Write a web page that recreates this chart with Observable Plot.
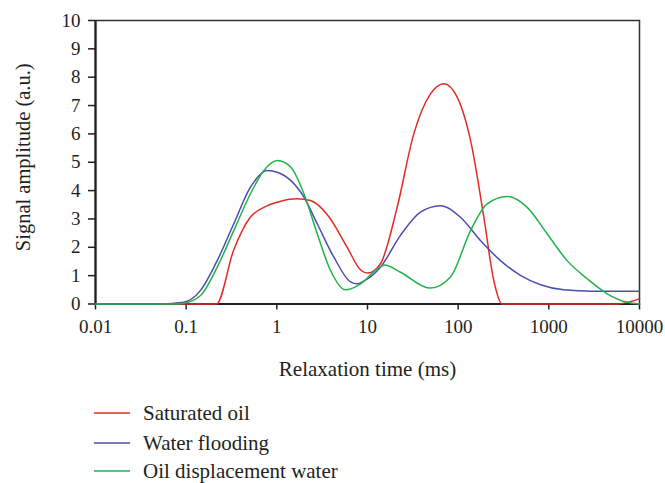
<!DOCTYPE html>
<html>
<head>
<meta charset="utf-8">
<script src="https://cdn.jsdelivr.net/npm/d3@7"></script>
<script src="https://cdn.jsdelivr.net/npm/@observablehq/plot@0.6"></script>
<style>
  body { margin: 0; background: #fff; font-family: "Liberation Serif", serif; }
  #wrap { position: relative; width: 665px; height: 483px; overflow: hidden; }
  .lg { position: absolute; left: 94px; height: 26px; display: flex; align-items: center; font-size: 21px; color: #231f20; white-space: nowrap; }
  .lg svg { margin-right: 13px; }
</style>
</head>
<body>
<div id="wrap"></div>
<script>
// Relaxation time (ms) and signal amplitude (a.u.) for each series
const seriesNames = ["Saturated oil", "Water flooding", "Oil displacement water"];
const seriesColors = ["#e32b25", "#4a4fae", "#20b34a"];

const satT = [0.01, 0.1, 0.216, 0.333, 0.51, 0.72, 1.01, 1.67, 2.35, 3.75, 5.97, 8.4, 10.1, 13.9, 21.2, 32.4, 49.5, 69.5, 97.5, 137, 192, 247, 306, 5660, 10000];
const satA = [0, 0, 0, 1.89, 3.06, 3.41, 3.59, 3.71, 3.65, 3.08, 2.0, 1.2, 1.09, 1.42, 3.4, 6.0, 7.41, 7.77, 7.30, 5.77, 3.06, 0.83, 0, 0, 0.18];

const wfT = [0.01, 0.052, 0.094, 0.144, 0.22, 0.335, 0.512, 0.78, 1.01, 1.42, 1.99, 2.79, 4.26, 6.5, 7.7, 9.0, 13.9, 23.1, 38.4, 63.8, 106, 176, 293, 486, 809, 1460, 3000, 10000];
const wfA = [0, 0, 0.06, 0.48, 1.53, 2.83, 4.12, 4.71, 4.65, 4.36, 3.77, 2.83, 1.65, 0.78, 0.71, 0.8, 1.30, 2.42, 3.24, 3.47, 3.06, 2.24, 1.53, 1.01, 0.68, 0.50, 0.45, 0.45];

const odT = [0.01, 0.07, 0.094, 0.144, 0.22, 0.335, 0.512, 0.72, 1.01, 1.42, 1.99, 2.79, 3.91, 5.7, 8.4, 12.8, 15.5, 23.1, 49.5, 82.2, 137, 209, 347, 577, 957, 1590, 2650, 4400, 7310, 10000];
const odA = [0, 0, 0.03, 0.30, 1.30, 2.59, 3.89, 4.71, 5.06, 4.83, 3.89, 2.48, 1.18, 0.50, 0.71, 1.24, 1.38, 1.12, 0.56, 0.95, 2.59, 3.53, 3.79, 3.41, 2.48, 1.53, 0.89, 0.36, 0.06, 0];

const xTicks = [0.01, 0.1, 1, 10, 100, 1000, 10000];
const xTickLabels = ["0.01", "0.1", "1", "10", "100", "1000", "10000"];
const yTicks = [0, 1, 2, 3, 4, 5, 6, 7, 8, 9, 10];
const xTitle = "Relaxation time (ms)";
const yTitle = "Signal amplitude (a.u.)";

const rows = [];
[[satT, satA], [wfT, wfA], [odT, odA]].forEach(([ts, as], i) => {
  ts.forEach((t, j) => rows.push({series: seriesNames[i], t, a: as[j]}));
});

const chart = Plot.plot({
  width: 665,
  height: 398,
  marginLeft: 95,
  marginRight: 26,
  marginTop: 20,
  marginBottom: 94.5,
  style: {fontFamily: "Liberation Serif, serif", fontSize: "19px", color: "#231f20", background: "#fff"},
  x: {type: "log", domain: [0.01, 10000]},
  y: {domain: [0, 10]},
  color: {domain: seriesNames, range: seriesColors},
  marks: [
    Plot.frame({stroke: "#333", strokeWidth: 1.5}),
    Plot.ruleY([0], {stroke: "#222", strokeWidth: 2.2}),
    Plot.ruleX([0.01], {stroke: "#222", strokeWidth: 2.2}),
    Plot.axisX({ticks: xTicks, tickFormat: (d) => xTickLabels[xTicks.indexOf(d)], tickSize: 6, tickPadding: 9, label: null, fontSize: 19, strokeWidth: 1.5}),
    Plot.axisY({ticks: yTicks, tickSize: 7, tickPadding: 8, label: null, fontSize: 19, strokeWidth: 1.5}),
    Plot.lineY(rows, {x: "t", y: "a", stroke: "series", strokeWidth: 1.5, curve: "monotone-x"}),
    Plot.text([xTitle], {frameAnchor: "bottom", textAnchor: "middle", dy: 71.5, fontSize: 21, fill: "#231f20"}),
    Plot.text([yTitle], {frameAnchor: "left", textAnchor: "middle", dx: -72.5, dy: -5, rotate: -90, fontSize: 20.5, fill: "#231f20"})
  ]
});
const wrap = document.getElementById("wrap");
wrap.appendChild(chart);

const centers = [413, 443, 471];
const svgNS = "http://www.w3.org/2000/svg";
seriesNames.forEach((name, i) => {
  const d = document.createElement("div");
  d.className = "lg";
  d.style.top = (centers[i] - 13) + "px";
  const sw = document.createElementNS(svgNS, "svg");
  sw.setAttribute("width", "36");
  sw.setAttribute("height", "6");
  const ln = document.createElementNS(svgNS, "line");
  ln.setAttribute("x1", "0"); ln.setAttribute("x2", "36");
  ln.setAttribute("y1", "3"); ln.setAttribute("y2", "3");
  ln.setAttribute("stroke", seriesColors[i]);
  ln.setAttribute("stroke-width", "1.6");
  sw.appendChild(ln);
  d.appendChild(sw);
  d.appendChild(document.createTextNode(name));
  wrap.appendChild(d);
});
</script>
</body>
</html>
